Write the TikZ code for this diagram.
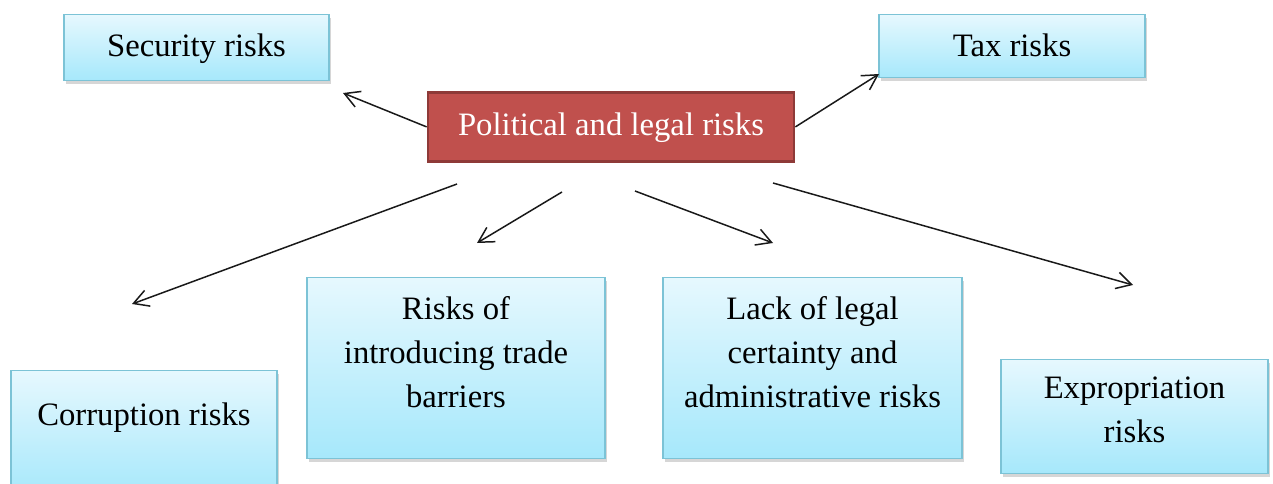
\documentclass[tikz,border=0pt]{standalone}
\usepackage{fontspec}
\setmainfont{Liberation Serif}
\usetikzlibrary{arrows.meta,shadows}

\definecolor{boxtop}{HTML}{E6F8FE}
\definecolor{boxbot}{HTML}{A6E8FB}
\definecolor{boxline}{HTML}{7CC3D6}
\definecolor{redfill}{HTML}{C0504D}
\definecolor{redline}{HTML}{8E3A38}

\tikzset{
  riskbox/.style={draw=boxline, line width=0.8pt, top color=boxtop, bottom color=boxbot,
    inner sep=0pt, anchor=north, align=center, font=\fontsize{18.6pt}{25pt}\selectfont,
    drop shadow={shadow xshift=0.04cm, shadow yshift=-0.07cm, fill=black!40, opacity=0.4}},
  mainbox/.style={draw=redline, line width=1.6pt, fill=redfill, text=white,
    inner sep=0pt, anchor=north, font=\fontsize{18.6pt}{25pt}\selectfont},
  riskarrow/.style={-{Straight Barb[length=8.5pt,width=9.5pt]}, line width=0.85pt, black!90},
}

\begin{document}
\begin{tikzpicture}[x=0.02cm, y=-0.02cm]
\useasboundingbox (0,0) rectangle (1273,483);

\node[mainbox, minimum width=7.32cm, text height=0.86cm, text depth=0.52cm] (pol) at (611,91) {Political and legal risks};

\node[riskbox, minimum width=5.30cm, text height=0.84cm, text depth=0.48cm] (sec) at (196.5,14) {Security risks};
\node[riskbox, minimum width=5.32cm, text height=0.84cm, text depth=0.42cm] (tax) at (1012,14) {Tax risks};

% multi-line boxes: heights counted to the last baseline
\node[riskbox, minimum width=5.32cm, text height=1.10cm, text depth=1.40cm] (cor) at (144,370) {Corruption risks};
\node[riskbox, minimum width=5.96cm, text height=2.60cm, text depth=1.02cm] (trade) at (456,277) {Risks of\\introducing trade\\barriers};
\node[riskbox, minimum width=5.98cm, text height=2.60cm, text depth=1.02cm] (lack) at (812.5,277) {Lack of legal\\certainty and\\administrative risks};
\node[riskbox, minimum width=5.34cm, text height=1.66cm, text depth=0.62cm] (expr) at (1134.5,359) {Expropriation\\risks};

% arrow ends
\coordinate (sec-e) at (343,93);
\coordinate (tax-e) at (879,74);
\coordinate (cor-s) at (457,184);
\coordinate (cor-e) at (132,304);
\coordinate (trade-s) at (562,192);
\coordinate (trade-e) at (477,243);
\coordinate (lack-s) at (635,191);
\coordinate (lack-e) at (773,243);
\coordinate (expr-s) at (773,183);
\coordinate (expr-e) at (1133,285);

\draw[riskarrow] (pol.west) -- (sec-e);
\draw[riskarrow] (pol.east) -- (tax-e);
\draw[riskarrow] (cor-s) -- (cor-e);
\draw[riskarrow] (trade-s) -- (trade-e);
\draw[riskarrow] (lack-s) -- (lack-e);
\draw[riskarrow] (expr-s) -- (expr-e);
\end{tikzpicture}
\end{document}
